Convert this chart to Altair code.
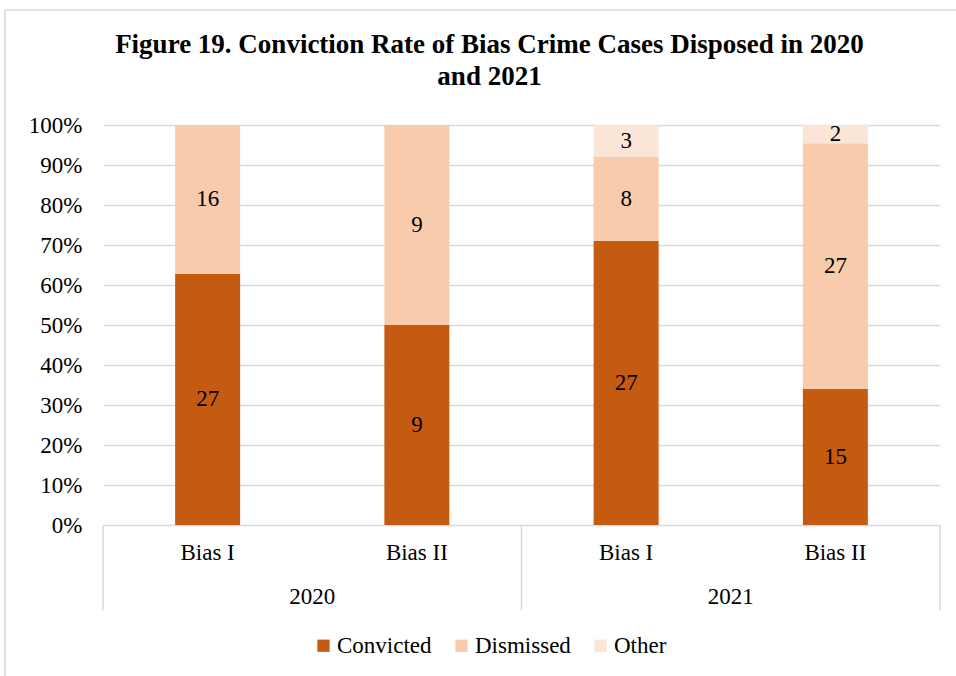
import altair as alt
import pandas as pd

groups = ["Bias I", "Bias II", "Bias I", "Bias II"]
years = ["2020", "2020", "2021", "2021"]
convicted = [27, 9, 27, 15]
dismissed = [16, 9, 8, 27]
other = [0, 0, 3, 2]
outcomes = ["Convicted", "Dismissed", "Other"]
colors = ["#C55A11", "#F8CBAD", "#FBE5D6"]
year_labels = ["2020", "2021"]

rows = []
for i in range(len(groups)):
    vals = [convicted[i], dismissed[i], other[i]]
    tot = sum(vals)
    cum = 0
    for o, v in zip(outcomes, vals):
        y0 = cum / tot
        cum += v
        y1 = cum / tot
        rows.append({"pos": i + 0.5, "outcome": o, "n": v, "y0": y0, "y1": y1,
                     "mid": (y0 + y1) / 2})
df = pd.DataFrame(rows)

sub_df = pd.DataFrame({"pos": [i + 0.5 for i in range(len(groups))], "label": groups})
year_df = pd.DataFrame({"pos": [1.0, 3.0], "label": year_labels})
sep_df = pd.DataFrame({"pos": [0.0, 2.0, 4.0]})

FONT = "Liberation Serif"
W, H = 837, 400
NX = 4
px = 1.0 / H           # one pixel in y-scale units
pxx = NX / W           # one pixel in x-scale units

xscale = alt.Scale(domain=[0, NX], padding=0)
yscale = alt.Scale(domain=[0, 1], padding=0)

yaxis = alt.Axis(format=".0%", values=[i / 10 for i in range(11)], tickCount=11,
                 title=None, domain=False, ticks=False, labelOverlap=False,
                 labelFont=FONT, labelFontSize=23, labelColor="#000000",
                 labelPadding=21, gridColor="#d9d9d9", gridWidth=1.5)

bars = alt.Chart(df).mark_bar(size=65).encode(
    x=alt.X("pos:Q", scale=xscale, axis=None),
    y=alt.Y("y0:Q", scale=yscale, axis=yaxis),
    y2="y1:Q",
    color=alt.Color("outcome:N", scale=alt.Scale(domain=outcomes, range=colors),
                    legend=alt.Legend(title=None, orient="none", direction="horizontal",
                                      legendX=209, legendY=509, symbolType="square",
                                      symbolSize=150,
                                      labelFont=FONT, labelFontSize=23,
                                      labelColor="#000000", columnPadding=18,
                                      labelOffset=2)),
)

labels = alt.Chart(df).transform_filter("datum.n > 0").mark_text(
    font=FONT, fontSize=23, color="#000000", baseline="middle"
).encode(x=alt.X("pos:Q", scale=xscale, axis=None),
         y=alt.Y("mid:Q", scale=yscale, axis=yaxis), text="n:Q")

sub = alt.Chart(sub_df).mark_text(font=FONT, fontSize=23, color="#000000", baseline="middle").encode(
    x=alt.X("pos:Q", scale=xscale, axis=None), y=alt.datum(-28 * px), text="label:N")

yr = alt.Chart(year_df).mark_text(font=FONT, fontSize=23, color="#000000", baseline="middle").encode(
    x=alt.X("pos:Q", scale=xscale, axis=None), y=alt.datum(-72 * px), text="label:N")

seps = alt.Chart(sep_df).mark_rule(color="#d9d9d9", strokeWidth=1.5).encode(
    x=alt.X("pos:Q", scale=xscale, axis=None), y=alt.datum(0), y2=alt.datum(-85 * px))

border = alt.Chart(year_df).transform_filter("datum.pos == 1").mark_rect(
    fillOpacity=0, stroke="#d9d9d9", strokeWidth=1.5
).encode(
    x=alt.datum(-98 * pxx), x2=alt.datum(NX + 30 * pxx),
    y=alt.datum(1 + 115 * px), y2=alt.datum(-170 * px))

chart = alt.layer(bars, seps, labels, sub, yr, border).properties(
    width=W, height=H,
    title=alt.TitleParams(["Figure 19. Conviction Rate of Bias Crime Cases Disposed in 2020", "and 2021"],
                          font=FONT, fontSize=27, fontWeight="bold", color="#000000",
                          anchor="middle", dx=-32, offset=-82, lineHeight=32),
    autosize=alt.AutoSizeParams(type="none"),
    padding={"left": 103, "top": 125, "right": 16, "bottom": 151},
).configure_view(stroke=None)

chart.save("out.html", embed_options={"renderer": "svg", "actions": False})
